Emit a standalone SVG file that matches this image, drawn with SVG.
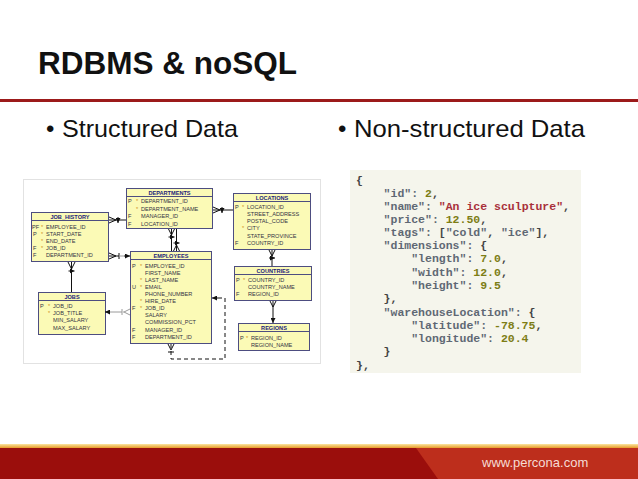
<svg xmlns="http://www.w3.org/2000/svg" width="638" height="479" viewBox="0 0 638 479">
<defs>
<style>
.title{font-family:"Liberation Sans",Arial,sans-serif;font-weight:bold;fill:#111}
.bul{font-family:"Liberation Sans",Arial,sans-serif;fill:#111}
.tb{fill:#fbfab6;stroke:#4d4d80;stroke-width:1}
.hd{font-family:"Liberation Sans",Arial,sans-serif;font-size:5.6px;font-weight:bold;fill:#23237a;text-anchor:middle}
.rw{font-family:"Liberation Sans",Arial,sans-serif;font-size:5.6px;fill:#333344}
.mk{font-family:"Liberation Sans",Arial,sans-serif;font-size:5.6px;fill:#333344}
.st{font-family:"Liberation Sans",Arial,sans-serif;font-size:5.6px;fill:#d08a20}
.ln{fill:none;stroke:#111;stroke-width:1}
.lg{fill:none;stroke:#9a9a9a;stroke-width:1}
.ds{fill:none;stroke:#111;stroke-width:1;stroke-dasharray:4 3}
.js{font-family:"Liberation Mono","Courier New",monospace;font-size:11.5px;font-weight:bold;fill:#5f6874}
.str{fill:#a8303a}
.num{fill:#7d7d15}
.pn{fill:#444}
</style>
<marker id="ar" viewBox="0 0 10 10" refX="10" refY="5" markerWidth="5" markerHeight="5" orient="auto" markerUnits="userSpaceOnUse">
<path d="M0,0 L10,5 L0,10 z" fill="#111"/>
</marker>
<linearGradient id="yl" x1="0" y1="0" x2="0" y2="1">
<stop offset="0" stop-color="#fbe6a0"/>
<stop offset="1" stop-color="#e79a2a"/>
</linearGradient>
</defs>
<rect width="638" height="479" fill="#ffffff"/>

<g id="title">
<text class="title" x="38" y="74" font-size="31" textLength="259" lengthAdjust="spacingAndGlyphs">RDBMS &amp; noSQL</text>
<rect x="0" y="99" width="638" height="3" fill="#9c1a1a"/>
</g>

<g id="bullets">
<text class="bul" x="46" y="137" font-size="24">•</text>
<text class="bul" x="62" y="137" font-size="24" textLength="176" lengthAdjust="spacingAndGlyphs">Structured Data</text>
<text class="bul" x="338" y="137" font-size="24">•</text>
<text class="bul" x="354" y="137" font-size="24" textLength="231" lengthAdjust="spacingAndGlyphs">Non-structured Data</text>
</g>

<g id="er-frame">
<rect x="23.5" y="179.5" width="297" height="184" fill="#ffffff" stroke="#e2e2e2"/>
</g>

<g id="departments">
<rect class="tb" x="126.5" y="188.5" width="86" height="40"/>
<line x1="126.5" y1="196.5" x2="212.5" y2="196.5" stroke="#4d4d80"/>
<text class="hd" x="169.5" y="194.5">DEPARTMENTS</text>
<text class="mk" x="128" y="203">P</text><text class="st" x="136" y="203">*</text><text class="rw" x="141" y="203">DEPARTMENT_ID</text>
<text class="st" x="136" y="210.5">*</text><text class="rw" x="141" y="210.5">DEPARTMENT_NAME</text>
<text class="mk" x="128" y="218">F</text><text class="rw" x="141" y="218">MANAGER_ID</text>
<text class="mk" x="128" y="225.5">F</text><text class="rw" x="141" y="225.5">LOCATION_ID</text>
</g>

<g id="locations">
<rect class="tb" x="233.5" y="193.5" width="77" height="56"/>
<line x1="233.5" y1="201.5" x2="310.5" y2="201.5" stroke="#4d4d80"/>
<text class="hd" x="272" y="199.5">LOCATIONS</text>
<text class="mk" x="235" y="209">P</text><text class="st" x="242" y="209">*</text><text class="rw" x="247" y="209">LOCATION_ID</text>
<text class="rw" x="247" y="216">STREET_ADDRESS</text>
<text class="rw" x="247" y="223">POSTAL_CODE</text>
<text class="st" x="242" y="230">*</text><text class="rw" x="247" y="230">CITY</text>
<text class="rw" x="247" y="237.5">STATE_PROVINCE</text>
<text class="mk" x="235" y="245">F</text><text class="rw" x="247" y="245">COUNTRY_ID</text>
</g>

<g id="job_history">
<rect class="tb" x="31.5" y="212.5" width="77" height="49"/>
<line x1="31.5" y1="220.5" x2="108.5" y2="220.5" stroke="#4d4d80"/>
<text class="hd" x="70" y="218.5">JOB_HISTORY</text>
<text class="mk" x="32" y="228.5">PF</text><text class="st" x="41" y="228.5">*</text><text class="rw" x="46" y="228.5">EMPLOYEE_ID</text>
<text class="mk" x="33" y="235.5">P</text><text class="st" x="41" y="235.5">*</text><text class="rw" x="46" y="235.5">START_DATE</text>
<text class="st" x="41" y="242.5">*</text><text class="rw" x="46" y="242.5">END_DATE</text>
<text class="mk" x="33" y="249.5">F</text><text class="st" x="41" y="249.5">*</text><text class="rw" x="46" y="249.5">JOB_ID</text>
<text class="mk" x="33" y="256.5">F</text><text class="rw" x="46" y="256.5">DEPARTMENT_ID</text>
</g>

<g id="employees">
<rect class="tb" x="130.5" y="251.5" width="81" height="92"/>
<line x1="130.5" y1="259.5" x2="211.5" y2="259.5" stroke="#4d4d80"/>
<text class="hd" x="171" y="257.5">EMPLOYEES</text>
<text class="mk" x="132" y="267.5">P</text><text class="st" x="140" y="267.5">*</text><text class="rw" x="145" y="267.5">EMPLOYEE_ID</text>
<text class="rw" x="145" y="274.5">FIRST_NAME</text>
<text class="st" x="140" y="281.5">*</text><text class="rw" x="145" y="281.5">LAST_NAME</text>
<text class="mk" x="132" y="288.5">U</text><text class="st" x="140" y="288.5">*</text><text class="rw" x="145" y="288.5">EMAIL</text>
<text class="rw" x="145" y="295.5">PHONE_NUMBER</text>
<text class="st" x="140" y="302.5">*</text><text class="rw" x="145" y="302.5">HIRE_DATE</text>
<text class="mk" x="132" y="310">F</text><text class="st" x="140" y="310">*</text><text class="rw" x="145" y="310">JOB_ID</text>
<text class="rw" x="145" y="317">SALARY</text>
<text class="rw" x="145" y="324">COMMISSION_PCT</text>
<text class="mk" x="132" y="331.5">F</text><text class="rw" x="145" y="331.5">MANAGER_ID</text>
<text class="mk" x="132" y="339">F</text><text class="rw" x="145" y="339">DEPARTMENT_ID</text>
</g>

<g id="jobs">
<rect class="tb" x="38.5" y="292.5" width="67" height="42"/>
<line x1="38.5" y1="300.5" x2="105.5" y2="300.5" stroke="#4d4d80"/>
<text class="hd" x="72" y="298.5">JOBS</text>
<text class="mk" x="40" y="308">P</text><text class="st" x="48" y="308">*</text><text class="rw" x="53" y="308">JOB_ID</text>
<text class="st" x="48" y="315">*</text><text class="rw" x="53" y="315">JOB_TITLE</text>
<text class="rw" x="53" y="322">MIN_SALARY</text>
<text class="rw" x="53" y="329.5">MAX_SALARY</text>
</g>

<g id="countries">
<rect class="tb" x="234.5" y="266.5" width="77" height="34"/>
<line x1="234.5" y1="274.5" x2="311.5" y2="274.5" stroke="#4d4d80"/>
<text class="hd" x="273" y="272.5">COUNTRIES</text>
<text class="mk" x="236" y="282">P</text><text class="st" x="243" y="282">*</text><text class="rw" x="248" y="282">COUNTRY_ID</text>
<text class="rw" x="248" y="289">COUNTRY_NAME</text>
<text class="mk" x="236" y="296">F</text><text class="rw" x="248" y="296">REGION_ID</text>
</g>

<g id="regions">
<rect class="tb" x="238.5" y="323.5" width="71" height="27"/>
<line x1="238.5" y1="331.5" x2="309.5" y2="331.5" stroke="#4d4d80"/>
<text class="hd" x="274" y="329.5">REGIONS</text>
<text class="mk" x="240" y="339.5">P</text><text class="st" x="246" y="339.5">*</text><text class="rw" x="251" y="339.5">REGION_ID</text>
<text class="rw" x="251" y="346.5">REGION_NAME</text>
</g>

<g id="connectors">
<path class="ln" d="M109,217 L116,220 L109,223 M109,220 L126,220 M118,217 L118,223" marker-end="url(#ar)"/>
<path class="ln" d="M109,253 L116,256 L109,259 M109,256 L119,256 M119,253 L119,259"/>
<path class="lg" d="M119,256 L124,256"/>
<path class="ln" d="M124,256 L130,256" marker-end="url(#ar)"/>
<path class="ln" d="M68,262 L71.5,269 L75,262 M71.5,262 L71.5,292 M68.5,271 L74.5,271" marker-end="url(#ar)"/>
<path class="ln" d="M168.5,229 L171.5,235 L174.5,229 M171.5,229 L171.5,251 M168.5,237 L174.5,237" marker-end="url(#ar)"/>
<path class="ln" d="M173.5,251 L176.5,245 L179.5,251 M176.5,251 L176.5,229 M173.5,243 L179.5,243" marker-end="url(#ar)"/>
<path class="ln" d="M213,207 L220,210 L213,213 M213,210 L233,210 M222,207 L222,213" marker-end="url(#ar)"/>
<path class="ln" d="M269,250 L272,256 L275,250 M272,250 L272,266 M269,258 L275,258" marker-end="url(#ar)"/>
<path class="ln" d="M270,301 L273,307 L276,301 M273,301 L273,323" marker-end="url(#ar)"/>
<path class="lg" d="M130,309 L124,312 L130,315 M124,312 L123,312 M122,309 L122,315 M122,312 L110,312"/>
<path class="ln" d="M110,312 L105,312" marker-end="url(#ar)"/>
<path class="ln" d="M168,344 L171,350 L174,344 M168,352 L174,352"/>
<path class="ds" d="M171,344 L171,359 L225,359 L225,298 L218,298"/>
<path class="ln" d="M218,298 L212,298" marker-end="url(#ar)"/>
</g>

<g id="json">
<rect x="350" y="170" width="231" height="203" fill="#f5f5ec"/>
<text class="js" x="356" y="184"><tspan class="pn">{</tspan></text>
<text class="js" x="383.6" y="197">"id": <tspan class="num">2</tspan><tspan class="pn">,</tspan></text>
<text class="js" x="383.6" y="210">"name": <tspan class="str">"An ice sculpture"</tspan><tspan class="pn">,</tspan></text>
<text class="js" x="383.6" y="223">"price": <tspan class="num">12.50</tspan><tspan class="pn">,</tspan></text>
<text class="js" x="383.6" y="236">"tags": <tspan class="pn">[</tspan>"cold"<tspan class="pn">, </tspan>"ice"<tspan class="pn">],</tspan></text>
<text class="js" x="383.6" y="249">"dimensions": <tspan class="pn">{</tspan></text>
<text class="js" x="411.2" y="262">"length": <tspan class="num">7.0</tspan><tspan class="pn">,</tspan></text>
<text class="js" x="411.2" y="275.5">"width": <tspan class="num">12.0</tspan><tspan class="pn">,</tspan></text>
<text class="js" x="411.2" y="288.5">"height": <tspan class="num">9.5</tspan></text>
<text class="js" x="383.6" y="302"><tspan class="pn">},</tspan></text>
<text class="js" x="383.6" y="315.5">"warehouseLocation": <tspan class="pn">{</tspan></text>
<text class="js" x="411.2" y="328.5">"latitude": <tspan class="num">-78.75</tspan><tspan class="pn">,</tspan></text>
<text class="js" x="411.2" y="342">"longitude": <tspan class="num">20.4</tspan></text>
<text class="js" x="383.6" y="355"><tspan class="pn">}</tspan></text>
<text class="js" x="356" y="368.5"><tspan class="pn">},</tspan></text>
</g>

<g id="footer">
<rect x="0" y="444" width="638" height="4" fill="url(#yl)"/>
<rect x="0" y="448" width="638" height="31" fill="#9b0e0c"/>
<polygon points="416,448 638,448 638,479 438,479" fill="#bd2e1c"/>
<text x="482" y="467" font-family="'Liberation Sans',Arial,sans-serif" font-size="13" fill="#f6dcd4">www.percona.com</text>
</g>
</svg>
